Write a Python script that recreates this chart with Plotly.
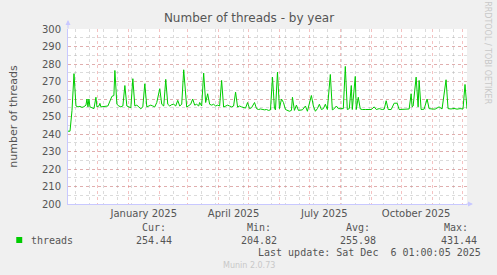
import pandas as pd
import plotly.graph_objects as go

# ---- data (day offsets from 2024-11-01, thread counts) ----
start_date = "2024-11-01"
end_date = "2025-12-06"
day_offsets = [0, 2, 4, 6, 8, 10, 12, 14, 16, 18, 19, 20, 21, 22, 24, 26, 28, 29, 31, 32, 33, 36, 40, 44, 46, 47, 49, 51, 53, 55, 57, 59, 61, 63, 65, 67, 69, 71, 73, 75, 77, 79, 81, 83, 85, 87, 89, 92, 94, 96, 98, 100, 102, 104, 106, 108, 110, 112, 114, 116, 119, 121, 123, 125, 127, 129, 131, 132, 134, 136, 138, 140, 142, 144, 146, 148, 150, 152, 154, 156, 158, 160, 162, 164, 166, 168, 170, 172, 174, 176, 178, 180, 182, 184, 187, 189, 191, 193, 195, 197, 199, 201, 203, 205, 207, 208, 210, 212, 214, 216, 218, 220, 222, 224, 225, 227, 229, 231, 233, 235, 238, 240, 244, 246, 248, 250, 252, 254, 256, 258, 260, 263, 265, 267, 269, 271, 273, 276, 278, 280, 282, 284, 285, 287, 288, 289, 291, 293, 295, 298, 301, 304, 307, 309, 312, 315, 317, 319, 321, 324, 327, 330, 332, 335, 338, 342, 344, 345, 346, 349, 351, 352, 354, 357, 360, 362, 365, 368, 372, 375, 379, 381, 384, 387, 390, 393, 396, 398, 400]
threads = [241.6, 241.6, 253.4, 274.5, 256, 255.5, 255.8, 255.2, 255.6, 256.5, 260, 255.5, 260, 255.5, 255, 254.5, 261, 255.5, 256, 257.5, 255.5, 255.8, 256, 261.5, 262, 276.3, 257, 256, 255.5, 256, 267.7, 256, 255.5, 255, 271.6, 256, 256.5, 255.5, 254.4, 255.5, 268.7, 255.5, 256, 256.5, 256, 255.5, 258, 265.9, 257, 256, 271.2, 257, 256, 256.8, 257, 256, 259.2, 256, 257, 276.7, 255.4, 256, 257, 260, 256.5, 257, 256, 258, 256, 274.8, 258, 263, 257, 256.5, 257, 256, 256.5, 256, 270.6, 255.4, 256, 256.5, 256, 255.5, 256, 263.9, 255.4, 256, 255.5, 255, 254.8, 258, 254.5, 255, 258, 254.5, 254, 254.3, 254, 253.8, 254, 253.5, 253.8, 272.5, 254.5, 253.8, 275.4, 254.5, 260, 258, 254, 253.5, 253, 253.5, 261, 253.5, 256.5, 253.5, 253.5, 253.8, 256, 253, 262, 256, 253, 254.5, 257, 254, 254.5, 257, 254, 274, 253.8, 254.5, 256, 254.5, 254.5, 254.5, 278.6, 254, 254.5, 267.7, 254, 267.7, 272.9, 254, 261, 254.3, 254, 254, 253.8, 254, 255.5, 254, 254.5, 254, 254.2, 259, 254, 254, 257.6, 257.6, 254, 254.2, 254, 254.3, 263, 255.5, 256, 272.5, 255.5, 270.6, 254, 254.2, 260, 254.5, 254.3, 254.2, 255.5, 254.3, 271, 254.5, 254.3, 254.6, 254.2, 254.5, 254.3, 268.3, 254.4, 254.4]

month_label_dates = ["2025-01-16", "2025-04-16", "2025-07-16", "2025-10-16"]
month_labels = ["January 2025", "April 2025", "July 2025", "October 2025"]
y_ticks = [200, 210, 220, 230, 240, 250, 260, 270, 280, 290, 300]

dates = pd.to_datetime(start_date) + pd.to_timedelta(day_offsets, unit="D")

W, H = 497, 275
PL, PR, PT, PB = 66, 467, 29, 203.6   # plot area in pixels

GRID_MAJOR = "rgba(230,120,120,0.45)"
GRID_MINOR = "rgba(160,160,160,0.38)"
AXIS_COL = "#C8C8FF"
TXT = "#555555"

fig = go.Figure()
fig.add_trace(go.Scatter(x=dates, y=threads, mode="lines",
                         line=dict(color="#00CC00", width=1.0),
                         hoverinfo="skip", showlegend=False))
# bind the label axis
fig.add_trace(go.Scatter(x=month_label_dates, y=[None] * len(month_label_dates),
                         xaxis="x2", yaxis="y", mode="markers",
                         marker=dict(opacity=0), hoverinfo="skip",
                         showlegend=False))

fig.update_layout(
    width=W, height=H,
    margin=dict(l=PL, r=W - PR, t=PT, b=H - PB),
    paper_bgcolor="#F0F0F0", plot_bgcolor="#FFFFFF",
    font=dict(family="DejaVu Sans", size=10, color=TXT),
    showlegend=False,
    title=dict(text="Number of threads - by year", x=249 / W, xanchor="center",
               y=1 - 18 / H, yanchor="middle",
               font=dict(family="DejaVu Sans", size=12, color=TXT)),
    xaxis=dict(type="date", range=[start_date, end_date],
               tickmode="linear", tick0="2024-11-01", dtick="M1",
               showticklabels=False, ticks="",
               showgrid=True, gridcolor=GRID_MAJOR, griddash="dot", gridwidth=1,
               minor=dict(tick0="2024-11-09", dtick=14 * 86400000, showgrid=True,
                          gridcolor=GRID_MINOR, griddash="dot", gridwidth=1),
               showline=True, linecolor=AXIS_COL, linewidth=1, zeroline=False),
    xaxis2=dict(type="date", range=[start_date, end_date], overlaying="x",
                anchor="y", side="bottom", tickmode="array",
                tickvals=month_label_dates, ticktext=month_labels,
                showgrid=False, ticks="", showline=False, zeroline=False,
                ticklabelstandoff=2,
                tickfont=dict(family="DejaVu Sans", size=10, color=TXT)),
    yaxis=dict(range=[200, 300], tickmode="array", tickvals=y_ticks,
               showgrid=True, gridcolor=GRID_MAJOR, griddash="dot", gridwidth=1,
               minor=dict(dtick=5, showgrid=True, gridcolor=GRID_MINOR,
                          griddash="dot", gridwidth=1),
               showline=True, linecolor=AXIS_COL, linewidth=1, zeroline=False,
               ticks="", ticklabelstandoff=4,
               tickfont=dict(family="DejaVu Sans", size=10, color=TXT),
               title=dict(text="number of threads", standoff=22,
                          font=dict(family="DejaVu Sans", size=11, color=TXT))),
)


def px(x):
    return (x - PL) / (PR - PL)


def py(y):
    return (PB - y) / (PB - PT)


# axis arrows
fig.add_annotation(x=px(66), y=py(20), xref="paper", yref="paper",
                   ax=0, ay=10, showarrow=True, arrowhead=2, arrowsize=1,
                   arrowwidth=1, arrowcolor=AXIS_COL, text="")
fig.add_annotation(x=px(473), y=py(PB), xref="paper", yref="paper",
                   ax=-8, ay=0, showarrow=True, arrowhead=2, arrowsize=1,
                   arrowwidth=1, arrowcolor=AXIS_COL, text="")

MONO = "DejaVu Sans Mono"


def txt(x, y, s, size=10, color=TXT, anchor="center", font=MONO, angle=0):
    fig.add_annotation(x=px(x), y=py(y), xref="paper", yref="paper",
                       text=s, showarrow=False, xanchor=anchor, yanchor="middle",
                       textangle=angle,
                       font=dict(family=font, size=size, color=color))


txt(488, 53, "RRDTOOL / TOBI OETIKER", size=8, color="#C8C8C8",
    font="DejaVu Sans", angle=90)

# legend block
fig.add_shape(type="rect", xref="paper", yref="paper",
              x0=px(14), x1=px(20), y0=py(242.5), y1=py(236.5),
              fillcolor="#00CC00", line=dict(width=0))
txt(27, 240, "threads", anchor="left")
txt(152, 227.5, "Cur:")
txt(152, 240, "254.44")
txt(258, 227.5, "Min:")
txt(258, 240, "204.82")
txt(357, 227.5, "Avg:")
txt(357, 240, "255.98")
txt(456, 227.5, "Max:")
txt(459, 240, "431.44")
txt(483, 252, "Last update: Sat Dec  6 01:00:05 2025", anchor="right")
txt(248, 265, "Munin 2.0.73", size=8, color="#C8C8C8", font="DejaVu Sans")

fig.write_html("out.html")
